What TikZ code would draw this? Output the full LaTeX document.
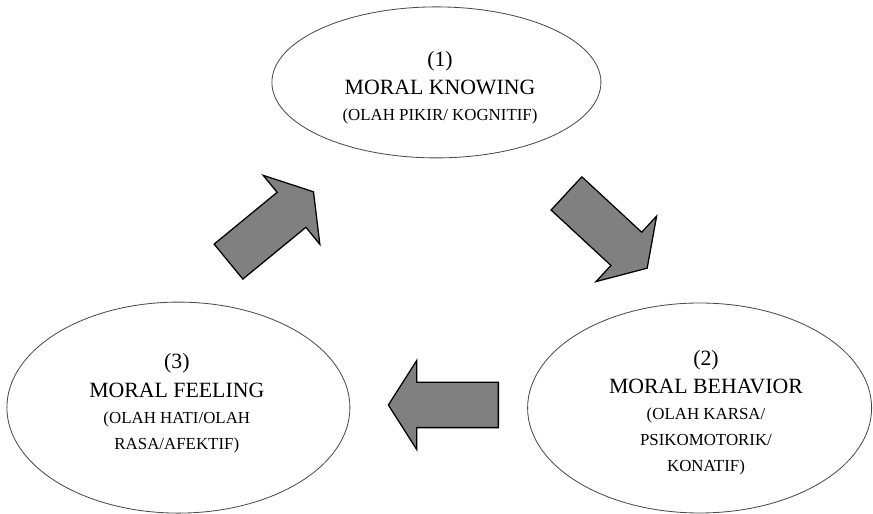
\documentclass[tikz,border=0pt]{standalone}
\usepackage{fontspec}
\setmainfont{Liberation Serif}
\usetikzlibrary{shapes.geometric,shapes.arrows}

\newcommand{\subtxt}{\fontsize{12}{15}\selectfont}

\begin{document}
\begin{tikzpicture}[
    oval/.style={draw=black!70, line width=0.6pt, ellipse, inner sep=0pt},
    caption/.style={align=center, inner sep=0pt, font=\fontsize{15.5}{20.5}\selectfont},
    bigarrow/.style={draw, line width=0.9pt, fill=black!50, single arrow, minimum height=2.75cm, inner xsep=0pt, inner ysep=0.55cm, single arrow head extend=0.55cm, single arrow tip angle=115, single arrow head indent=0pt, anchor=tail}
]
    \useasboundingbox (0,0) rectangle (21.825,12.85);

    % Ellipses
    \node[oval, minimum width=8.225cm, minimum height=3.775cm] (knowing) at (10.91,10.79) {};
    \node[oval, minimum width=8.6cm, minimum height=5.25cm] (behavior) at (17.49,2.65) {};
    \node[oval, minimum width=8.575cm, minimum height=5.275cm] (feeling) at (4.46,2.66) {};

    % Texts
    \node[caption] (knowingtxt) at ([shift={(0.09,-0.135)}]knowing.center) {(1)\\MORAL KNOWING\\[-2pt]{\subtxt (OLAH PIKIR/ KOGNITIF)}};
    \node[caption] (behaviortxt) at ([shift={(0.16,-0.12)}]behavior.center) {(2)\\MORAL BEHAVIOR\\[-2pt]{\subtxt (OLAH KARSA/}\\[-2pt]{\subtxt PSIKOMOTORIK/}\\[-2pt]{\subtxt KONATIF)}};
    \node[caption] (feelingtxt) at ([shift={(-0.04,0.11)}]feeling.center) {(3)\\MORAL FEELING\\[-2pt]{\subtxt (OLAH HATI/OLAH}\\[-2pt]{\subtxt RASA/AFEKTIF)}};

    % Arrows
    \node[bigarrow, rotate=-42.8] (toBehavior) at (14.15,8.025) {};
    \node[bigarrow, rotate=180] (toFeeling) at (12.475,2.725) {};
    \node[bigarrow, rotate=39.4] (toKnowing) at (5.7,6.3) {};
\end{tikzpicture}
\end{document}
